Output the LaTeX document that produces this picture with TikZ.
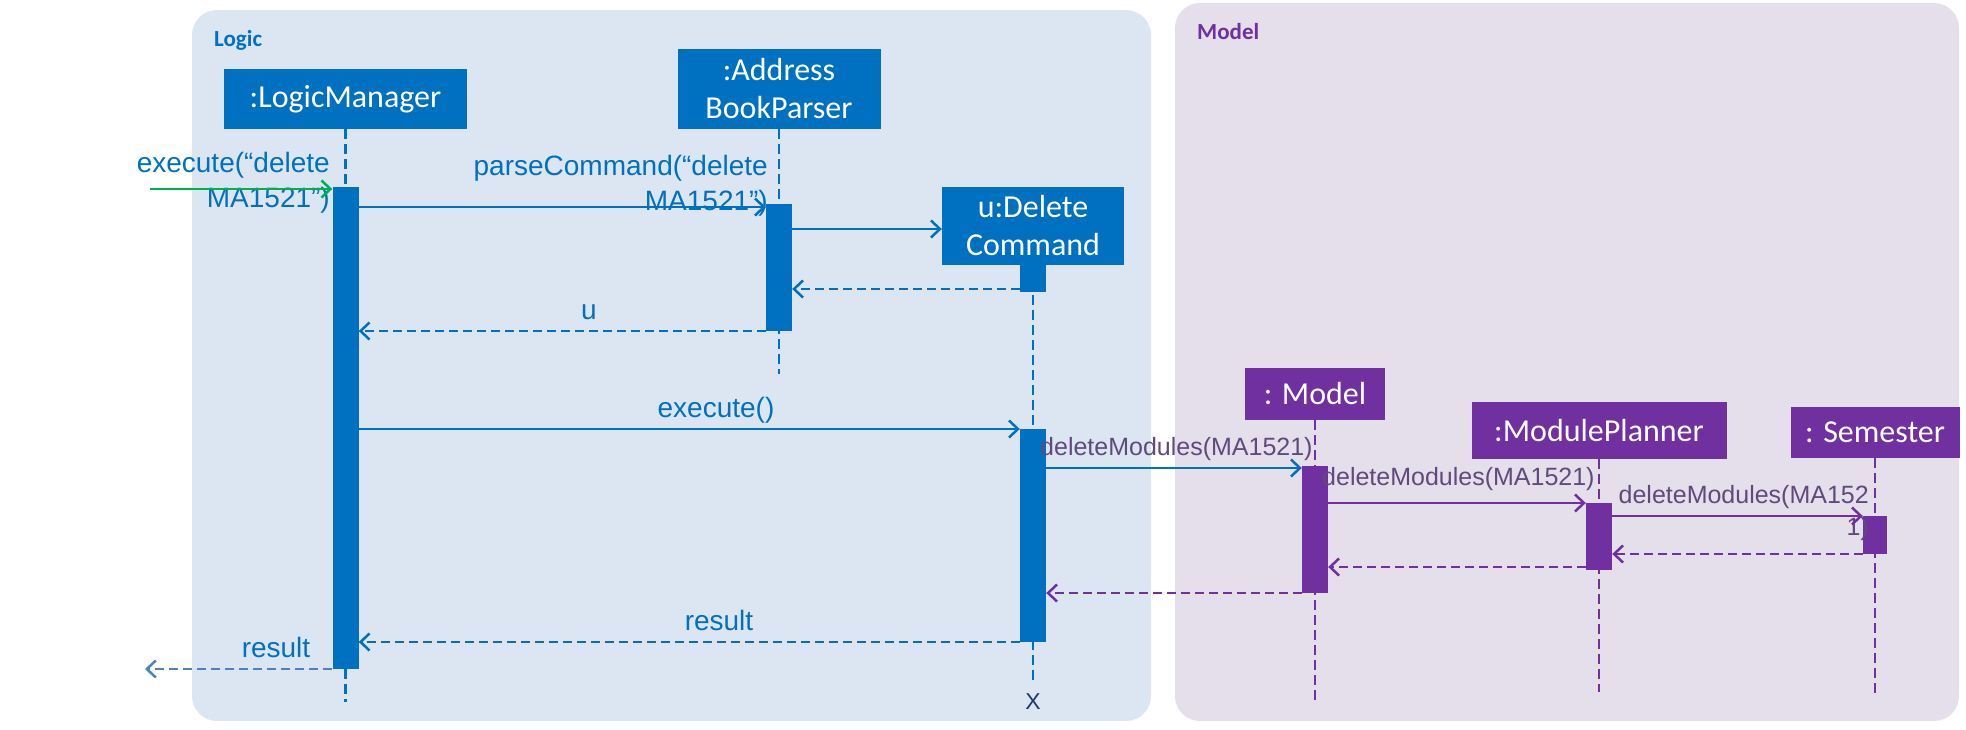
\documentclass[tikz,border=0pt]{standalone}
\usepackage{fontspec}
\setmainfont{Liberation Sans}
\newfontfamily\boxfont{Carlito}
\usepackage{tikz}
\usetikzlibrary{arrows.meta}
\usetikzlibrary{positioning}
\definecolor{logicblue}{RGB}{0,112,192}
\definecolor{modelpurple}{RGB}{112,48,160}
\definecolor{logicbg}{RGB}{220,230,242}
\definecolor{modelbg}{RGB}{229,223,236}
\definecolor{callgreen}{RGB}{0,176,80}
\definecolor{dmtext}{RGB}{96,74,123}
\definecolor{outblue}{RGB}{79,129,189}
\definecolor{xnavy}{RGB}{31,56,100}
\tikzstyle{obj} = [rectangle, inner sep=0pt, align=center, text=white, font=\boxfont\fontsize{32}{38}\selectfont]
\tikzstyle{lobj} = [obj, fill=logicblue]
\tikzstyle{mobj} = [obj, fill=modelpurple]
\tikzstyle{bar} = [rectangle, inner sep=0pt, minimum width=26pt]
\tikzstyle{life} = [line width=2.5pt, dash pattern=on 10pt off 5pt]
\tikzstyle{msg} = [line width=2.5pt, -{Straight Barb[length=9pt,width=17pt]}]
\tikzstyle{ret} = [msg, dash pattern=on 9pt off 5pt]
\tikzstyle{lbl} = [inner sep=0pt, font=\fontsize{28}{35}\selectfont, text=logicblue]
\tikzstyle{dmlbl} = [inner sep=0pt, font=\fontsize{25}{32}\selectfont, text=dmtext]
\tikzstyle{pkg} = [inner sep=0pt, anchor=base west, font=\boxfont\bfseries\fontsize{23}{28}\selectfont]

\begin{document}
\begin{tikzpicture}[x=1pt, y=-1pt]
	\useasboundingbox (0,0) rectangle (1966,729);

	% Packages
	\fill[logicbg, rounded corners=25pt] (192,10) rectangle (1151,721);
	\fill[modelbg, rounded corners=25pt] (1175,3) rectangle (1959,721);
	\node[pkg, text=logicblue] (logic) at (214,46) {Logic};
	\node[pkg, text=modelpurple] (model) at (1197,39) {Model};

	% Objects
	\node[lobj, minimum width=243pt, minimum height=60pt] (lm) at (345.5,99) {:LogicManager};
	\node[lobj, minimum width=203pt, minimum height=80pt] (abp) at (779,89) {:Address\\BookParser};
	\node[lobj, minimum width=182pt, minimum height=78pt] (dc) at (1033,226) {u:Delete\\Command};
	\node[mobj, minimum width=140pt, minimum height=52pt] (mdl) at (1315,394) {: Model};
	\node[mobj, minimum width=255pt, minimum height=57pt] (mp) at (1599,430.5) {:ModulePlanner};
	\node[mobj, minimum width=169pt, minimum height=51pt] (sem) at (1875,432.5) {: Semester};

	% Lifeline ends
	\coordinate (lmend) at (345.5,702);
	\coordinate (abpend) at (779,374);
	\coordinate (dcend) at (1033,680);
	\coordinate (mdlend) at (1315,702);
	\coordinate (mpend) at (1599,692);
	\coordinate (semend) at (1875,693);

	% Lifelines
	\draw[life, logicblue] (lm.south) -- (lmend);
	\draw[life, logicblue] (abp.south) -- (abpend);
	\draw[life, logicblue] (dc.south) -- (dcend);
	\draw[life, modelpurple] (mdl.south) -- (mdlend);
	\draw[life, modelpurple] (mp.south) -- (mpend);
	\draw[life, modelpurple] (sem.south) -- (semend);
	\node[below = 13pt of dcend, inner sep=0pt, text=xnavy, font=\fontsize{23}{28}\selectfont] (kill) {X};

	% Activation bars
	\node[bar, fill=logicblue, minimum height=482pt] (lmbar) at (345.5,428) {};
	\node[bar, fill=logicblue, minimum height=127pt] (pbar) at (779,267.5) {};
	\node[bar, fill=logicblue, minimum height=27pt, anchor=north] (dcbar0) at (dc.south) {};
	\node[bar, fill=logicblue, minimum height=213pt] (dcbar) at (1033,535.5) {};
	\node[bar, fill=modelpurple, minimum height=127pt] (mbar) at (1315,529.5) {};
	\node[bar, fill=modelpurple, minimum height=67pt] (mpbar) at (1599,536.5) {};
	\node[bar, fill=modelpurple, minimum height=38pt, minimum width=24pt] (sembar) at (1875,535) {};

	% Labels
	\node[lbl, anchor=base east, align=right] (execlbl) at (330,207) {execute(\textquotedblleft delete\\MA1521\textquotedblright)};
	\node[lbl, anchor=base east, align=right] (parselbl) at (768,210) {parseCommand(\textquotedblleft delete\\MA1521\textquotedblright)};
	\node[lbl, anchor=base] (ulbl) at (589,319) {u};
	\node[lbl, anchor=base] (runlbl) at (716,417) {execute()};
	\node[lbl, anchor=base] (reslbl) at (719,630) {result};
	\node[lbl, anchor=base] (outlbl) at (276,657) {result};
	\node[dmlbl, anchor=base west] (dmlbl1) at (1040,455) {deleteModules(MA1521)};
	\node[dmlbl, anchor=base west] (dmlbl2) at (1322,485) {deleteModules(MA1521)};
	\node[dmlbl, anchor=base east, align=right] (dmlbl3) at (1869,535) {deleteModules(MA152\\1)};

	% Message rows
	\coordinate (start) at (150,189);
	\coordinate (parse) at (0,207);
	\coordinate (create) at (0,229);
	\coordinate (made) at (0,289);
	\coordinate (gotu) at (0,331);
	\coordinate (run) at (0,429);
	\coordinate (dm1) at (0,468);
	\coordinate (dm2) at (0,503);
	\coordinate (dm3) at (0,516);
	\coordinate (back3) at (0,554);
	\coordinate (back2) at (0,567);
	\coordinate (back1) at (0,593);
	\coordinate (res) at (0,642);
	\coordinate (exit) at (145,669);

	% Calls
	\draw[msg, callgreen] (start) -- (lmbar.west |- start);
	\draw[msg, logicblue] (lmbar.east |- parse) -- (pbar.west |- parse);
	\draw[msg, logicblue] (pbar.east |- create) -- (dc.west |- create);
	\draw[msg, logicblue] (lmbar.east |- run) -- (dcbar.west |- run);
	\draw[msg, logicblue] (dcbar.east |- dm1) -- (mbar.west |- dm1);
	\draw[msg, modelpurple] (mbar.east |- dm2) -- (mpbar.west |- dm2);
	\draw[msg, modelpurple] (mpbar.east |- dm3) -- (sembar.west |- dm3);

	% Returns
	\draw[ret, logicblue] (dcbar0.west |- made) -- (pbar.east |- made);
	\draw[ret, logicblue] (pbar.west |- gotu) -- (lmbar.east |- gotu);
	\draw[ret, modelpurple] (sembar.west |- back3) -- (mpbar.east |- back3);
	\draw[ret, modelpurple] (mpbar.west |- back2) -- (mbar.east |- back2);
	\draw[ret, modelpurple] (mbar.west |- back1) -- (dcbar.east |- back1);
	\draw[ret, logicblue] (dcbar.west |- res) -- (lmbar.east |- res);
	\draw[ret, outblue] (lmbar.west |- exit) -- (exit);

\end{tikzpicture}
\end{document}
